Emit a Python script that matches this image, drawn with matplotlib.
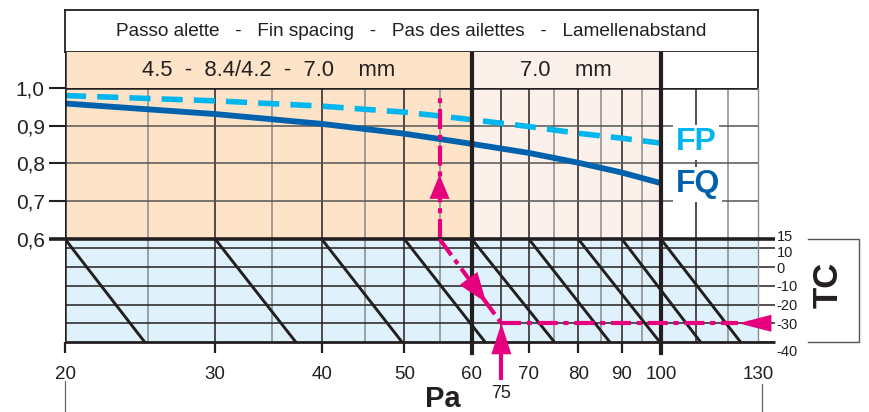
import matplotlib
matplotlib.use('Agg')
import matplotlib.pyplot as plt
import matplotlib.transforms as mtr
import numpy as np

plt.rcParams['font.family'] = ['Liberation Sans', 'DejaVu Sans']

# ---------------- data ----------------
title_text = 'Passo alette   -   Fin spacing   -   Pas des ailettes   -   Lamellenabstand'
band_edges = [20, 60, 100, 130]
band_labels = ['4.5  -  8.4/4.2  -  7.0    mm', '7.0    mm', '']
pa_ticks = [20, 30, 40, 50, 60, 70, 80, 90, 100, 130]
pa_tick_labels = ['20', '30', '40', '50', '60', '70', '80', '90', '100', '130']
pa_grid_dark = [30, 40, 50, 65, 70, 80, 90, 110]
pa_grid_light = [25, 35, 45, 55, 75, 85, 95, 120]
pa_grid_thick = [60, 100]
pa_curve = [20, 30, 40, 50, 55, 60, 70, 80, 90, 100]
fp_values = [0.980, 0.966, 0.952, 0.936, 0.926, 0.916, 0.898, 0.880, 0.867, 0.854]
fq_values = [0.959, 0.931, 0.905, 0.879, 0.865, 0.852, 0.828, 0.802, 0.776, 0.748]
factor_ticks = [1.0, 0.9, 0.8, 0.7, 0.6]
factor_labels = ['1,0', '0,9', '0,8', '0,7', '0,6']
tc_ticks = [15, 10, 0, -10, -20, -30, -40]
tc_labels = ['15', '10', '0', '-10', '-20', '-30', '-40']
tc_grid = [10, 0, -10, -20, -30]
diag_start_pa = [20, 30, 40, 50, 60, 70, 80, 90, 100]
diag_end_pa = [24.8, 37.3, 49.7, 62.2, 75.0, 87.1, 99.7, 111.3, 124.0]
ex_pa_mark = 65          # where the example "75" arrow meets the TC line
ex_pa_label = '75'
ex_tc = -30
ex_pa_corr = 55
ex_factor_top = 0.987
ex_tc_arrow_tip_pa = 123.3
ex_up_arrow_tip = 0.770
ex_diag_arrow_tip_tc = -19

# ---------------- style ----------------
PEACH = '#FDE3C8'
LIGHT = '#FBF1EA'
BLUE_BG = '#DFF1FA'
MAG = '#E6007E'
FP_C = '#00B6EE'
FQ_C = '#0062AD'
INK = '#231F20'
GRAY = '#8a8a8a'
DASHDOT = (0, (4.8, 1.4, 1.2, 1.4))

W, H = 869, 412
fig = plt.figure(figsize=(W / 100, H / 100), dpi=100)


def rect(x0, y0, x1, y1):
    return [x0 / W, 1 - y1 / H, (x1 - x0) / W, (y1 - y0) / H]


ax_title = fig.add_axes(rect(65, 10, 758, 52))
ax_head = fig.add_axes(rect(65, 52, 758, 88))
ax_top = fig.add_axes(rect(65, 88, 758, 239))
ax_bot = fig.add_axes(rect(65, 239, 758, 342))

for ax in (ax_title, ax_head, ax_top, ax_bot):
    ax.set_xscale('log')
    ax.set_xlim(band_edges[0], band_edges[-1])
    ax.xaxis.set_minor_locator(plt.NullLocator())
    ax.yaxis.set_minor_locator(plt.NullLocator())
    ax.set_xticks([])
    ax.set_yticks([])
    for s in ax.spines.values():
        s.set_visible(False)
    ax.patch.set_alpha(0)

# ---- title box ----
ax_title.set_ylim(0, 1)
for s in ('top', 'left', 'right', 'bottom'):
    ax_title.spines[s].set_visible(True)
    ax_title.spines[s].set_color(INK)
    ax_title.spines[s].set_linewidth(1.3)
ax_title.text(0.5, 0.5, title_text, transform=ax_title.transAxes, ha='center', va='center',
              fontsize=13.7, color=INK)

# ---- header band ----
ax_head.set_ylim(0, 1)
band_colors = [PEACH, LIGHT, 'white']
for i in range(3):
    ax_head.axvspan(band_edges[i], band_edges[i + 1], color=band_colors[i], lw=0, zorder=0)
    if band_labels[i]:
        xc = np.sqrt(band_edges[i] * band_edges[i + 1])
        ax_head.text(xc, 0.5, band_labels[i], ha='center', va='center', fontsize=15.8, color=INK)
ax_head.spines['right'].set_visible(True)
ax_head.spines['right'].set_color(INK)
ax_head.spines['right'].set_linewidth(1.3)

# ---- upper panel (factors) ----
ax_top.set_ylim(0.6, 1.0)
for i in range(2):
    ax_top.axvspan(band_edges[i], band_edges[i + 1], color=band_colors[i], lw=0, zorder=0)
for p in pa_grid_light:
    ax_top.axvline(p, color=GRAY, lw=1.1, zorder=1)
for p in pa_grid_dark:
    ax_top.axvline(p, color=INK, lw=1.1, zorder=1)
for y in factor_ticks[1:-1]:
    ax_top.axhline(y, color='#555555', lw=1.1, zorder=1)
ax_top.axhline(factor_ticks[0], color=INK, lw=1.8, zorder=2)
ax_top.set_yticks(factor_ticks)
ax_top.set_yticklabels(factor_labels)
ax_top.tick_params(axis='y', length=11.5, width=1.5, color=INK, pad=3, labelsize=15, labelcolor=INK)
ax_top.spines['right'].set_visible(True)
ax_top.spines['right'].set_color(GRAY)
ax_top.spines['right'].set_linewidth(1.0)

ax_top.plot(pa_curve, fp_values, color=FP_C, lw=4.0, linestyle=(0, (3.8, 2.0)), zorder=4,
            solid_capstyle='butt', dash_capstyle='butt')
ax_top.plot(pa_curve, fq_values, color=FQ_C, lw=4.2, zorder=4, solid_capstyle='butt')
ax_top.text(104, 0.835, 'FP', color=FP_C, fontsize=23, fontweight='bold', ha='left', va='baseline',
            zorder=5, bbox=dict(boxstyle='square,pad=0.08', fc='white', ec='none'))
ax_top.text(104, 0.724, 'FQ', color=FQ_C, fontsize=23, fontweight='bold', ha='left', va='baseline',
            zorder=5, bbox=dict(boxstyle='square,pad=0.08', fc='white', ec='none'))

# ---- lower panel (TC correction) ----
ax_bot.set_ylim(tc_ticks[-1], tc_ticks[0])
ax_bot.axvspan(band_edges[0], band_edges[-1], color=BLUE_BG, lw=0, zorder=0)
for p in pa_grid_light:
    ax_bot.axvline(p, color=GRAY, lw=1.1, zorder=1)
for p in pa_grid_dark:
    ax_bot.axvline(p, color=INK, lw=1.1, zorder=1)
for t in tc_grid:
    ax_bot.axhline(t, color=INK, lw=1.1, zorder=1)
for s, e in zip(diag_start_pa, diag_end_pa):
    ax_bot.plot([s, e], [tc_ticks[0], tc_ticks[-1]], color=INK, lw=2.1, zorder=3)
ax_bot.spines['right'].set_visible(True)
ax_bot.spines['right'].set_color(GRAY)
ax_bot.spines['right'].set_linewidth(1.0)

# thick top / bottom lines of the lower panel (extend to the ticks)
ytr = ax_bot.get_yaxis_transform()
ax_bot.plot([-16 / 693, 1 + 17 / 693], [tc_ticks[0], tc_ticks[0]], transform=ytr, color=INK,
            lw=2.6, clip_on=False, zorder=6, solid_capstyle='butt')
ax_bot.plot([0, 1 + 17 / 693], [tc_ticks[-1], tc_ticks[-1]], transform=ytr, color=INK,
            lw=2.0, clip_on=False, zorder=6, solid_capstyle='butt')

# x ticks
ax_bot.set_xticks(pa_ticks)
ax_bot.set_xticklabels(pa_tick_labels)
ax_bot.tick_params(axis='x', direction='out', length=8, width=1.6, color=INK, pad=9,
                   labelsize=13.5, labelcolor=INK)
ax_bot.xaxis.get_major_ticks()[-1].tick1line.set_visible(False)

# right TC ticks
ax_bot.yaxis.tick_right()
ax_bot.set_yticks(tc_ticks)
ax_bot.set_yticklabels(tc_labels)
ax_bot.tick_params(axis='y', length=12, width=1.1, color=INK, pad=1.5, labelsize=10.5,
                   labelcolor=INK, right=True, left=False, labelright=True, labelleft=False)
ticks_r = ax_bot.yaxis.get_major_ticks()
for idx, dy in ((0, 3), (1, -3), (6, -8)):
    lab = ticks_r[idx].label2
    lab.set_transform(lab.get_transform() + mtr.ScaledTranslation(0, dy / 100, fig.dpi_scale_trans))

# TC bracket and label
x0b, x1b = (808 - 65) / 693, (859 - 65) / 693
ax_bot.plot([x0b, x1b, x1b, x0b], [tc_ticks[0], tc_ticks[0], tc_ticks[-1], tc_ticks[-1]],
            transform=ytr, color='#555555', lw=1.0, clip_on=False)
ax_bot.text((828 - 65) / 693, 0.55, 'TC', transform=ax_bot.transAxes, rotation=90, ha='center',
            va='center', fontsize=25, fontweight='bold', color=INK)

# thick 60 / 100 lines and the left border through all panels
for ax in (ax_head, ax_top, ax_bot):
    for p in pa_grid_thick:
        ax.axvline(p, color=INK, lw=3.0, zorder=5)
    ax.axvline(band_edges[0], color=INK, lw=1.8, zorder=5)
for p in pa_grid_thick:
    ax_bot.axvline(p, ymin=-11 / 103, ymax=0, color=INK, lw=3.0, clip_on=False)

# thin page lines under 20 and 130
xtr = ax_bot.get_xaxis_transform()
ax_bot.plot([band_edges[0]] * 2, [-39 / 103, -72 / 103], transform=xtr, color='#666666', lw=0.9,
            clip_on=False)
ax_bot.plot([131.5] * 2, [-42 / 103, -72 / 103], transform=xtr, color='#666666', lw=0.9,
            clip_on=False)

# axis title
ax_bot.text(55.5, -57 / 103, 'Pa', transform=xtr, ha='center', va='center',
            fontsize=21, fontweight='bold', color=INK, clip_on=False)


# ---- example path (magenta) ----
def head(ax, tip, tail, length_px, width_px):
    L = length_px * 0.72
    Wd = width_px / 2 * 0.72
    ax.annotate('', xy=tip, xytext=tail, xycoords='data', textcoords='data',
                arrowprops=dict(arrowstyle=f'-|>,head_length={L},head_width={Wd}', mutation_scale=1,
                                fc=MAG, ec=MAG, lw=0, shrinkA=0, shrinkB=0),
                annotation_clip=False, zorder=8)


# vertical line to the curves
ax_top.plot([ex_pa_corr, ex_pa_corr], [factor_ticks[-1], ex_factor_top], color=MAG, lw=3.0,
            linestyle=DASHDOT, zorder=7, clip_on=False)
head(ax_top, (ex_pa_corr, ex_up_arrow_tip), (ex_pa_corr, factor_ticks[-1]), 24, 20)

# diagonal along the TC correction
ax_bot.plot([ex_pa_corr, ex_pa_mark], [tc_ticks[0], ex_tc], color=MAG, lw=3.0, linestyle=DASHDOT,
            zorder=7)
lp = np.log10([ex_pa_mark, ex_pa_corr])
tip_pa = 10 ** np.interp(ex_diag_arrow_tip_tc, [ex_tc, tc_ticks[0]], lp)
tail_pa = 10 ** np.interp(0, [ex_tc, tc_ticks[0]], lp)
head(ax_bot, (tip_pa, ex_diag_arrow_tip_tc), (tail_pa, 0), 30, 22)

# horizontal from the TC scale
ax_bot.plot([ex_pa_mark, ex_tc_arrow_tip_pa], [ex_tc, ex_tc], color=MAG, lw=3.0, linestyle=DASHDOT,
            zorder=7)
head(ax_bot, (ex_tc_arrow_tip_pa, ex_tc), (band_edges[-1] * 1.05, ex_tc), 33, 17)

# vertical from the Pa scale
ax_bot.plot([ex_pa_mark, ex_pa_mark], [-38 / 103, 0], transform=xtr, color=MAG, lw=3.0,
            clip_on=False, zorder=7, solid_capstyle='butt')
head(ax_bot, (ex_pa_mark, ex_tc), (ex_pa_mark, tc_ticks[-1]), 31, 20)
ax_bot.text(ex_pa_mark, -51 / 103, ex_pa_label, transform=xtr, ha='center', va='center',
            fontsize=13, color=INK, clip_on=False)

fig.savefig('out.png', dpi=100)
